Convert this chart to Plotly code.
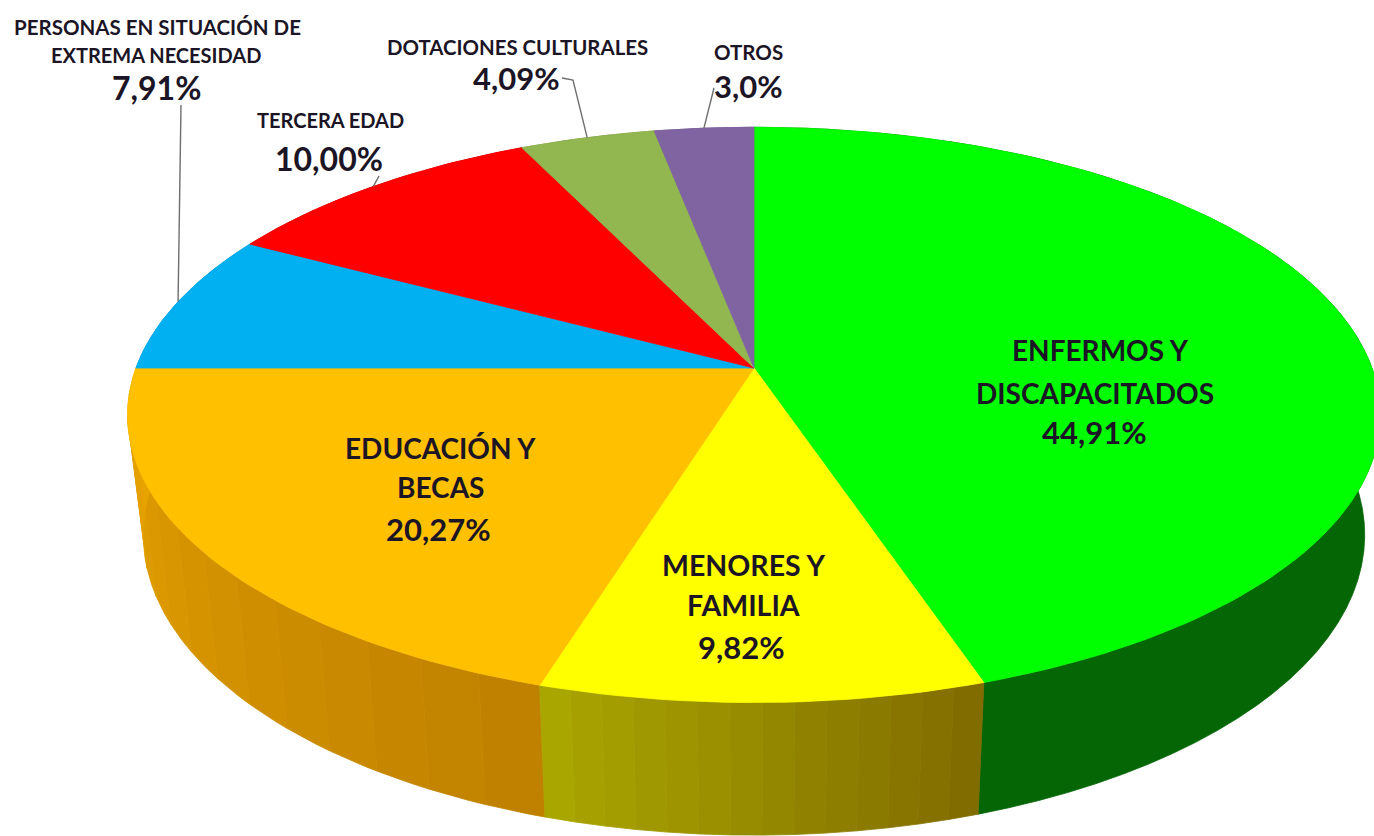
import math
import plotly.graph_objects as go

# ---- data ----
categories = ["ENFERMOS Y DISCAPACITADOS", "MENORES Y FAMILIA", "EDUCACIÓN Y BECAS",
              "PERSONAS EN SITUACIÓN DE EXTREMA NECESIDAD", "TERCERA EDAD",
              "DOTACIONES CULTURALES", "OTROS"]
values = [44.91, 9.82, 20.27, 7.91, 10.00, 4.09, 3.0]
value_labels = ["44,91%", "9,82%", "20,27%", "7,91%", "10,00%", "4,09%", "3,0%"]

# ---- style ----
top_colors = ["#00FF00", "#FFFF00", "#FFC000", "#00B0F0", "#FF0000", "#92B650", "#8064A2"]
# wall shading runs from the slice's right end to its left end (clockwise travel)
wall_from = ["#056605", "#7F6A00", "#BF8000", "#0088BB", "#BB0000", "#6E8A3C", "#5F4A7A"]
wall_to = ["#056605", "#ABA800", "#E8A400", "#0088BB", "#BB0000", "#6E8A3C", "#5F4A7A"]
TEXT = "#1B1525"
FONT = "Lato"

CX, CY = 754, 368
RX, RY, K = 618, 280, 0.163
DEPTH = 118
BASE_SCALE = 0.975


def project(frac, bottom=False):
    """Pie fraction (0..100, clockwise from 12 o'clock) to page position."""
    a = 2 * math.pi * frac / 100
    s, c = math.sin(a), math.cos(a)
    d = 1 + K * c
    x, y = RX * s / d, -RY * c / d
    if bottom:
        return CX + BASE_SCALE * x, CY + BASE_SCALE * y + DEPTH / d
    return CX + x, CY + y


def mix(c1, c2, t):
    p = [int(c1[i:i + 2], 16) for i in (1, 3, 5)]
    q = [int(c2[i:i + 2], 16) for i in (1, 3, 5)]
    return "#%02X%02X%02X" % tuple(round(a + (b - a) * t) for a, b in zip(p, q))


starts = [sum(values[:i]) for i in range(len(values))]
fig = go.Figure()


def poly(xs, ys, color):
    fig.add_trace(go.Scatter(x=xs, y=ys, mode="lines", fill="toself", fillcolor=color,
                             line=dict(color=color, width=0.8), hoverinfo="skip",
                             showlegend=False))


# side wall, back to front
order = sorted(range(len(values)),
               key=lambda i: math.cos(2 * math.pi * (starts[i] + values[i] / 2) / 100),
               reverse=True)
for i in order:
    strips = 14 if wall_from[i] != wall_to[i] else 1
    sub = 6 if strips > 1 else 60
    for j in range(strips):
        f0 = starts[i] + values[i] * j / strips
        f1 = starts[i] + values[i] * (j + 1) / strips
        fr = [f0 + (f1 - f0) * m / sub for m in range(sub + 1)]
        tp = [project(f) for f in fr]
        bt = [project(f, True) for f in reversed(fr)]
        pts = tp + bt + [tp[0]]
        poly([p[0] for p in pts], [p[1] for p in pts],
             mix(wall_from[i], wall_to[i], (j + 0.5) / strips))

# top face
for i in range(len(values)):
    n = max(8, int(values[i] * 3))
    arc = [project(starts[i] + values[i] * m / n) for m in range(n + 1)]
    pts = [(CX, CY)] + arc + [(CX, CY)]
    poly([p[0] for p in pts], [p[1] for p in pts], top_colors[i])

# leader lines: from a point near the label to the rim at the middle of the slice
elbows = {3: [(181, 105)], 4: [(379, 176)], 5: [(562, 78), (573, 80)], 6: [(714, 88)]}
for i, path in elbows.items():
    rim = project(starts[i] + values[i] / 2)
    pts = path + [rim]
    fig.add_trace(go.Scatter(x=[p[0] for p in pts], y=[p[1] for p in pts], mode="lines",
                             line=dict(color="#6E6E6E", width=1.4), hoverinfo="skip",
                             showlegend=False))

# text: (text, x, y, size)
texts = [
    ("ENFERMOS Y", 1100, 350, 28), ("DISCAPACITADOS", 1095, 393, 28), (value_labels[0], 1094, 432, 31),
    ("MENORES Y", 743, 565, 28.5), ("FAMILIA", 743, 605, 28.5), (value_labels[1], 741, 647, 31),
    ("EDUCACIÓN Y", 440, 448, 28), ("BECAS", 440, 487, 28), (value_labels[2], 438, 529, 31),
    ("PERSONAS EN SITUACIÓN DE", 157, 27, 20.5), ("EXTREMA NECESIDAD", 156, 55, 20), (value_labels[3], 156, 87, 32),
    ("TERCERA EDAD", 330, 120, 20), (value_labels[4], 329, 158, 32),
    ("DOTACIONES CULTURALES", 517, 47, 20.4), (value_labels[5], 516, 78, 31),
    ("OTROS", 748, 52, 20.5), (value_labels[6], 748, 86, 31),
]
annotations = [dict(x=x, y=y, xref="x", yref="y", text=t, showarrow=False, xanchor="center",
                    yanchor="middle", font=dict(family=FONT, size=s, color=TEXT, weight=700))
               for t, x, y, s in texts]

fig.update_layout(
    width=1374, height=836, margin=dict(l=0, r=0, t=0, b=0),
    paper_bgcolor="white", plot_bgcolor="white", showlegend=False,
    xaxis=dict(range=[0, 1374], visible=False, fixedrange=True),
    yaxis=dict(range=[836, 0], visible=False, fixedrange=True),
    annotations=annotations,
)
fig.write_html("out.html", config={"displayModeBar": False},
               post_script="document.body.style.margin='0';document.body.style.overflow='hidden';")
